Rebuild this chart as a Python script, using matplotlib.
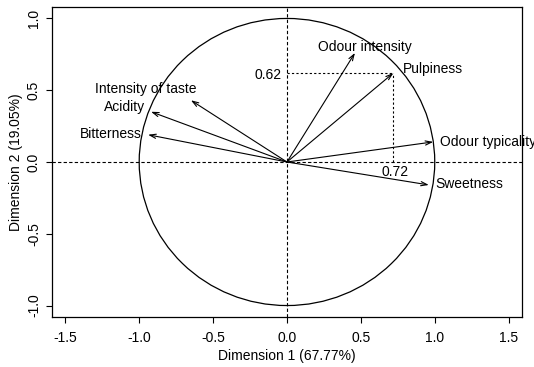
import numpy as np
import matplotlib
matplotlib.use("Agg")
import matplotlib.pyplot as plt
from matplotlib.patches import Circle

# Variable coordinates on the first two PCA dimensions
variables = ["Odour intensity", "Pulpiness", "Odour typicality", "Sweetness",
             "Intensity of taste", "Acidity", "Bitterness"]
dim1 = [0.46, 0.72, 0.99, 0.96, -0.65, -0.92, -0.94]
dim2 = [0.76, 0.62, 0.14, -0.16, 0.43, 0.35, 0.19]

dim1_label = "Dimension 1 (67.77%)"
dim2_label = "Dimension 2 (19.05%)"
xticks = [-1.5, -1.0, -0.5, 0.0, 0.5, 1.0, 1.5]
yticks = [-1.0, -0.5, 0.0, 0.5, 1.0]

# label placement: (dx, dy) offset in points, horizontal alignment
label_style = {
    "Odour intensity": ((7, 4), "center"),
    "Pulpiness": ((6.5, 3), "left"),
    "Odour typicality": ((4.5, 0), "left"),
    "Sweetness": ((4.5, 1), "left"),
    "Intensity of taste": ((-32.5, 8), "center"),
    "Acidity": ((-4.5, 3.5), "right"),
    "Bitterness": ((-4.5, 0.5), "right"),
}

plt.rcParams["font.family"] = ["Liberation Sans", "DejaVu Sans"]
fig = plt.figure(figsize=(5.34, 3.67), dpi=100)
ax = fig.add_axes([0.0974, 0.1362, 0.88, 0.8448])

ax.set_xlim(-1.59, 1.59)
ax.set_ylim(-1.08, 1.08)

ax.axhline(0, color="black", lw=0.8, ls=(0, (3, 2)))
ax.axvline(0, color="black", lw=0.8, ls=(0, (3, 2)))
ax.add_patch(Circle((0, 0), 1.0, fill=False, ec="black", lw=0.9))

for name, x, y in zip(variables, dim1, dim2):
    ax.annotate("", xy=(x, y), xytext=(0, 0),
                arrowprops=dict(arrowstyle="->,head_length=0.45,head_width=0.15",
                                color="black", lw=0.8, shrinkA=0, shrinkB=0))
    (dx, dy), ha = label_style[name]
    ax.annotate(name, xy=(x, y), xytext=(dx, dy), textcoords="offset points",
                ha=ha, va="center", fontsize=10, annotation_clip=False)

# projection of Pulpiness onto both axes
px, py = dim1[1], dim2[1]
ax.plot([0, px], [py, py], color="black", lw=0.8, ls=(0, (2, 2)))
ax.plot([px, px], [0, py], color="black", lw=0.8, ls=(0, (2, 2)))
ax.annotate(f"{py:.2f}", xy=(0, py), xytext=(-3.5, -1.5), textcoords="offset points",
            ha="right", va="center", fontsize=10)
ax.annotate(f"{px:.2f}", xy=(px, 0), xytext=(1.5, -7.5), textcoords="offset points",
            ha="center", va="center", fontsize=10)

ax.set_xticks(xticks)
ax.set_yticks(yticks)
ax.set_xticklabels([f"{t:.1f}" for t in xticks], fontsize=10)
ax.set_yticklabels([f"{t:.1f}" for t in yticks], fontsize=10, rotation=90, va="center")
ax.tick_params(direction="out", length=4, width=0.8)
ax.tick_params(axis="x", pad=6)
ax.tick_params(axis="y", pad=4)
for s in ax.spines.values():
    s.set_linewidth(0.9)

ax.set_xlabel(dim1_label, fontsize=10, labelpad=3)
ax.set_ylabel(dim2_label, fontsize=10, labelpad=3)

fig.savefig("out.png", dpi=100)
